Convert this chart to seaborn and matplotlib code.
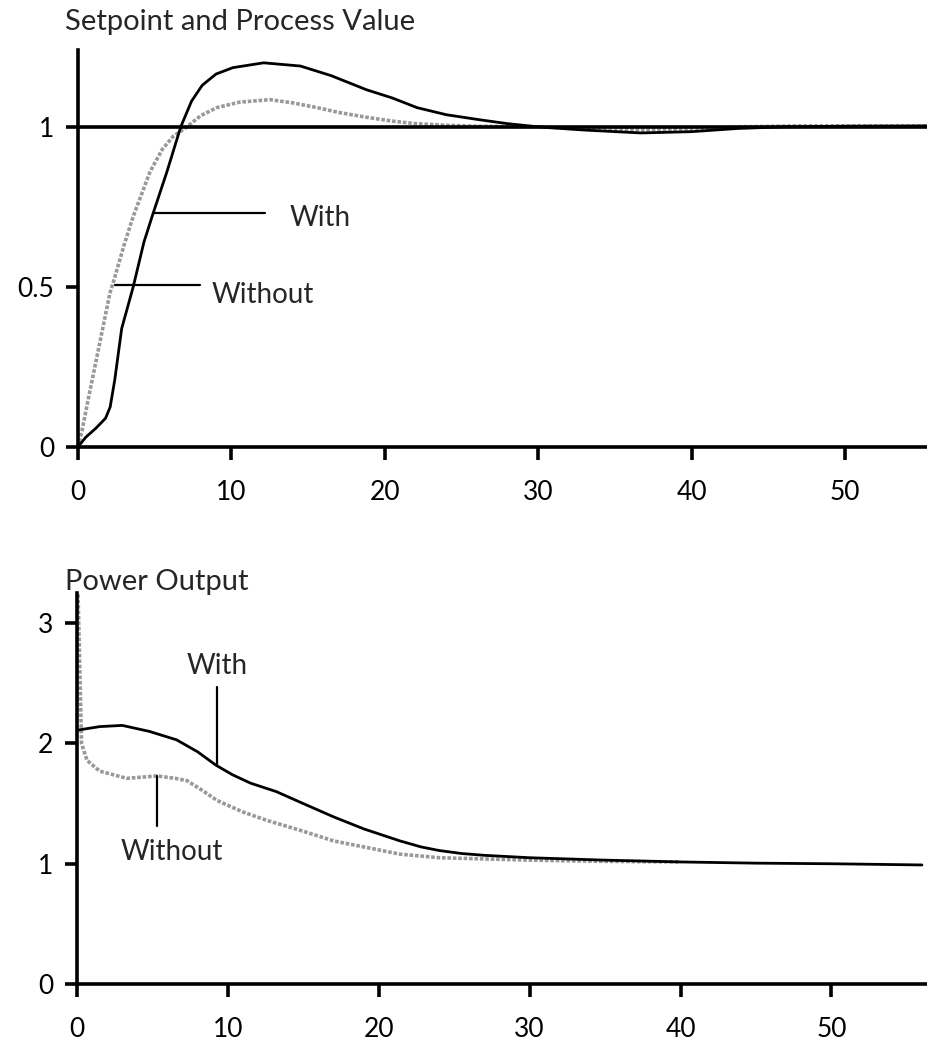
import numpy as np
import pandas as pd
import matplotlib
matplotlib.use("Agg")
import matplotlib.pyplot as plt
import seaborn as sns

# ---------------- data ----------------
# Top: setpoint and process value
pv_with_x = [0, 0.5, 1.2, 1.8, 2.1, 2.4, 2.85, 3.6, 4.3, 4.9, 5.8, 6.7, 7.4, 8.1, 9.0, 10.1, 12.1, 14.5, 16.5,
             18.8, 20.5, 22.1, 24, 26.2, 28, 30, 33, 36.7, 40, 43, 46, 50, 56]
pv_with_y = [0, 0.03, 0.06, 0.09, 0.125, 0.21, 0.37, 0.5, 0.64, 0.73, 0.86, 1.0, 1.08, 1.13, 1.165, 1.185, 1.2, 1.19, 1.16,
             1.116, 1.09, 1.06, 1.038, 1.022, 1.01, 1.0, 0.99, 0.981, 0.985, 0.995, 1.0, 1.002, 1.003]

pv_without_x = [0, 0.26, 0.8, 1.4, 2.08, 2.4, 3.0, 3.6, 4.7, 5.5, 6.2, 7.1, 8, 9.05, 10.5, 12.5,
                14, 15.6, 17, 18.8, 20.5, 22, 24, 26, 30, 33, 37, 41, 43, 47, 56]
pv_without_y = [0, 0.05, 0.18, 0.32, 0.48, 0.53, 0.63, 0.72, 0.86, 0.93, 0.97, 1.0, 1.035, 1.06, 1.077, 1.085,
                1.075, 1.06, 1.045, 1.03, 1.018, 1.01, 1.005, 1.002, 1.0, 0.993, 0.99, 0.993, 1.0, 1.003, 1.003]

setpoint_x = [0, 56]
setpoint_y = [1, 1]

# Bottom: power output
po_with_x = [0, 1.5, 3.0, 4.8, 6.6, 8, 9.2, 10.3, 11.5, 13.2, 15, 17, 19, 21.4, 22.8, 24, 25.5, 27, 30, 35,
             40, 45, 50, 56]
po_with_y = [2.11, 2.14, 2.15, 2.1, 2.03, 1.93, 1.82, 1.74, 1.67, 1.6, 1.5, 1.39, 1.29, 1.19, 1.14, 1.11, 1.085,
             1.07, 1.05, 1.03, 1.015, 1.005, 1.0, 0.99]

po_without_x = [0, 0.3, 0.66, 1.5, 3.3, 5.3, 6.5, 7.3, 8.3, 9.3, 11, 12.6, 15, 17, 19, 21.4, 24,
                27, 30, 35, 40]
po_without_y = [3.6, 2.0, 1.86, 1.77, 1.71, 1.73, 1.71, 1.69, 1.61, 1.525, 1.43, 1.36, 1.27, 1.19,
                1.14, 1.08, 1.05, 1.04, 1.03, 1.02, 1.015]

top_xticks = [0, 10, 20, 30, 40, 50]
top_yticks = [0, 0.5, 1]
top_yticklabels = ["0", "0.5", "1"]
bot_yticks = [0, 1, 2, 3]

title_top = "Setpoint and Process Value"
title_bot = "Power Output"

# ---------------- style ----------------
sns.set_style("ticks")
plt.rcParams['font.family'] = ['Lato', 'DejaVu Sans']

fig = plt.figure(figsize=(9.28, 10.51), dpi=100)
ax1 = fig.add_axes([0.084, 0.5747, 0.916, 0.3777])
ax2 = fig.add_axes([0.083, 0.0637, 0.917, 0.372])

gray = "#999999"
dot = (0, (1, 0.5))

def df(x, y):
    return pd.DataFrame({"x": x, "y": y})

# top
sns.lineplot(data=df(pv_without_x, pv_without_y), x="x", y="y", ax=ax1, color=gray,
             lw=2.6, linestyle=dot, sort=False, zorder=2)
sns.lineplot(data=df(setpoint_x, setpoint_y), x="x", y="y", ax=ax1, color="black",
             lw=2.6, sort=False, zorder=3)
sns.lineplot(data=df(pv_with_x, pv_with_y), x="x", y="y", ax=ax1, color="black",
             lw=2.0, sort=False, zorder=4)
ax1.set_xlim(0, 55.4)
ax1.set_ylim(0, 1.24)
ax1.set_xticks(top_xticks)
ax1.set_yticks(top_yticks)
ax1.set_yticklabels(top_yticklabels)

# annotations top
ax1.plot([4.9, 12.2], [0.73, 0.73], color="black", lw=1.6)
ax1.text(13.8, 0.715, "With", fontsize=20, va="center", ha="left")
ax1.plot([2.4, 7.95], [0.506, 0.506], color="black", lw=1.6)
ax1.text(8.7, 0.475, "Without", fontsize=20, va="center", ha="left")

# bottom
sns.lineplot(data=df(po_without_x, po_without_y), x="x", y="y", ax=ax2, color=gray,
             lw=2.6, linestyle=dot, sort=False, zorder=2)
sns.lineplot(data=df(po_with_x, po_with_y), x="x", y="y", ax=ax2, color="black",
             lw=2.0, sort=False, zorder=4)
ax2.set_xlim(0, 56.4)
ax2.set_ylim(0, 3.25)
ax2.set_xticks(top_xticks)
ax2.set_yticks(bot_yticks)

ax2.plot([9.3, 9.3], [2.47, 1.82], color="black", lw=1.6)
ax2.text(9.3, 2.64, "With", fontsize=20, va="center", ha="center")
ax2.plot([5.3, 5.3], [1.73, 1.31], color="black", lw=1.6)
ax2.text(6.3, 1.1, "Without", fontsize=20, va="center", ha="center")

for ax in (ax1, ax2):
    sns.despine(ax=ax)
    ax.set_xlabel("")
    ax.set_ylabel("")
    for s in ("left", "bottom"):
        ax.spines[s].set_linewidth(2.6)
        ax.spines[s].set_color("black")
    ax.tick_params(axis="both", direction="out", length=9, width=2.6, colors="black",
                   labelsize=19)
    ax.tick_params(axis="x", pad=15)
    ax.tick_params(axis="y", pad=8)
    ax.set_facecolor("white")

fig.text(0.070, 1 - 22 / 1051, title_top, fontsize=21, va="center", ha="left")
fig.text(0.070, 1 - 582 / 1051, title_bot, fontsize=21, va="center", ha="left")

fig.savefig("out.png", dpi=100, facecolor="white")
